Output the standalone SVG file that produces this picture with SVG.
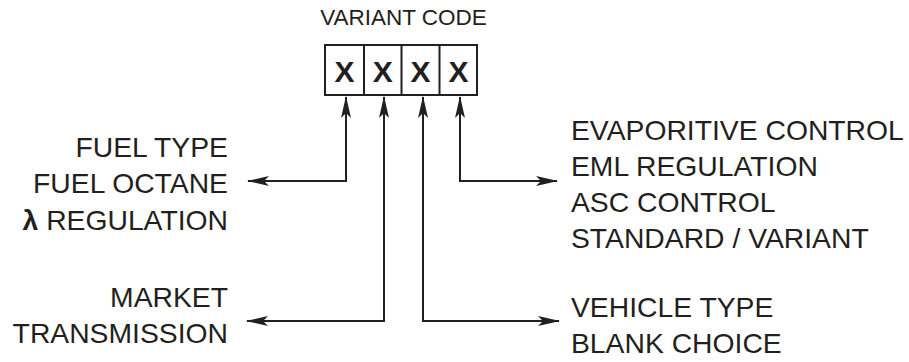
<svg xmlns="http://www.w3.org/2000/svg" width="909" height="362" viewBox="0 0 909 362">
<style>
.lbl{font-family:"Liberation Sans",Arial,sans-serif;font-size:28.3px;fill:#231f20}
.r{text-anchor:end}
.x{font-family:"Liberation Sans",Arial,sans-serif;font-size:30px;font-weight:bold;fill:#231f20;text-anchor:middle}
.title{font-family:"Liberation Sans",Arial,sans-serif;font-size:22.5px;fill:#231f20;text-anchor:middle}
.box{fill:#fff;stroke:#231f20;stroke-width:2}
.conn{fill:none;stroke:#231f20;stroke-width:2;marker-start:url(#ah);marker-end:url(#ah)}
</style>
<defs>
<marker id="ah" markerUnits="userSpaceOnUse" viewBox="0 0 22 10" markerWidth="22" markerHeight="10" refX="21" refY="5" orient="auto-start-reverse">
<path d="M0,0 L22,5 L0,10 L5,5 Z" fill="#231f20"/>
</marker>
</defs>
<rect width="909" height="362" fill="#fff"/>
<g id="variant-code">
<text class="title" x="403.5" y="25">VARIANT CODE</text>
<rect class="box" x="325" y="45" width="152" height="50"/>
<line class="box" x1="364" y1="45" x2="364" y2="95"/>
<line class="box" x1="401.5" y1="45" x2="401.5" y2="95"/>
<line class="box" x1="439.5" y1="45" x2="439.5" y2="95"/>
<text class="x" x="344.5" y="81.5">X</text>
<text class="x" x="382.7" y="81.5">X</text>
<text class="x" x="420.5" y="81.5">X</text>
<text class="x" x="458.5" y="81.5">X</text>
</g>
<g id="connectors">
<path class="conn" d="M346,97 V181 H248"/>
<path class="conn" d="M384,97 V321 H247"/>
<path class="conn" d="M423,97 V321 H559"/>
<path class="conn" d="M460,97 V181 H557"/>
</g>
<g id="fuel">
<text class="lbl r" x="228" y="157">FUEL TYPE</text>
<text class="lbl r" x="228" y="193">FUEL OCTANE</text>
<text class="lbl r" x="228" y="230"><tspan font-weight="bold">λ</tspan> REGULATION</text>
</g>
<g id="market">
<text class="lbl r" x="228" y="307">MARKET</text>
<text class="lbl r" x="228" y="343">TRANSMISSION</text>
</g>
<g id="evap">
<text class="lbl" x="571" y="140">EVAPORITIVE CONTROL</text>
<text class="lbl" x="571" y="176">EML REGULATION</text>
<text class="lbl" x="571" y="212">ASC CONTROL</text>
<text class="lbl" x="571" y="248">STANDARD / VARIANT</text>
</g>
<g id="vehicle">
<text class="lbl" x="571" y="317">VEHICLE TYPE</text>
<text class="lbl" x="571" y="353">BLANK CHOICE</text>
</g>
</svg>
